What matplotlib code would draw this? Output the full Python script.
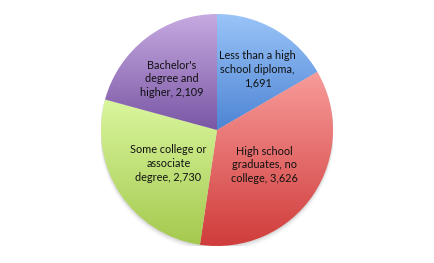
import numpy as np
import matplotlib
matplotlib.use('Agg')
import matplotlib.pyplot as plt
from matplotlib.colors import LinearSegmentedColormap

# education level counts
labels = ['Less than a high\nschool diploma,\n1,691',
          'High school\ngraduates, no\ncollege, 3,626',
          'Some college or\nassociate\ndegree, 2,730',
          "Bachelor's\ndegree and\nhigher, 2,109"]
values = [1691, 3626, 2730, 2109]

# gradient (top, bottom) per slice
grads = [('#9AC4F8', '#4D84D4'),
         ('#F89C9A', '#CF3B3A'),
         ('#DAF69E', '#A4C94E'),
         ('#C6AAE0', '#7A56A5')]
# label spots in pie units
label_xy = [(0.35, 0.52), (0.41, -0.30), (-0.42, -0.29), (-0.39, 0.44)]

plt.rcParams['font.family'] = ['Lato', 'DejaVu Sans']

fig = plt.figure(figsize=(4.34, 2.63), dpi=100)
ax = fig.add_axes([101/434, 17/263, 232/434, 232/263])

# soft shadow under the pie
for i, a in enumerate(np.linspace(0.05, 0.01, 5)):
    sh = plt.Circle((0, -0.012 - i * 0.006), 1.0 + i * 0.004, color='black', alpha=a, lw=0)
    ax.add_patch(sh)

wedges, _ = ax.pie(values, startangle=90, counterclock=False, radius=1.0,
                   wedgeprops=dict(linewidth=0))

for w, (top, bot) in zip(wedges, grads):
    w.set_facecolor('none')
    verts = w.get_path().vertices
    y0, y1 = verts[:, 1].min(), verts[:, 1].max()
    cmap = LinearSegmentedColormap.from_list('g', [bot, top])
    grad = np.linspace(0, 1, 256).reshape(-1, 1)
    im = ax.imshow(grad, cmap=cmap, extent=(-1.05, 1.05, y0, y1), origin='lower',
                   aspect='auto', zorder=1)
    im.set_clip_path(w)

for (x, y), t in zip(label_xy, labels):
    ax.text(x, y, t, ha='center', va='center', fontsize=7.8, color='#111111',
            linespacing=1.3, zorder=3)

ax.set_xlim(-1, 1)
ax.set_ylim(-1, 1)
ax.set_aspect('equal')
ax.axis('off')

fig.savefig('out.png', dpi=100)
